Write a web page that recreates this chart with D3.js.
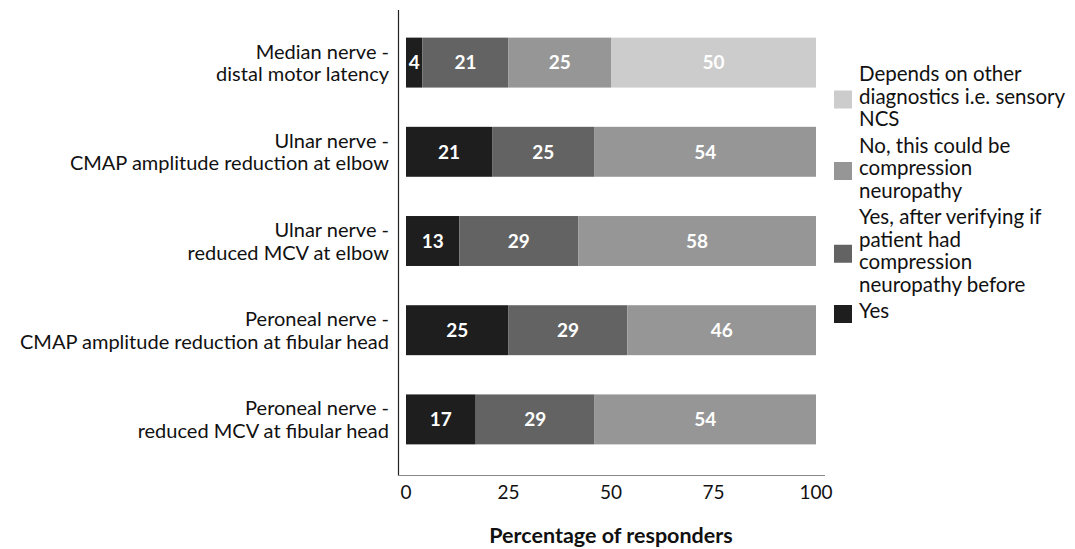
<!DOCTYPE html>
<html>
<head>
<meta charset="utf-8">
<script src="https://cdn.jsdelivr.net/npm/d3@7.9.0/dist/d3.min.js"></script>
<style>
  body { margin: 0; background: #fff; }
  svg { font-family: Lato, "Open Sans", sans-serif; }
</style>
</head>
<body>
<svg id="chart" width="1075" height="549"></svg>
<script>
const categories = [
  ["Median nerve -", "distal motor latency"],
  ["Ulnar nerve -", "CMAP amplitude reduction at elbow"],
  ["Ulnar nerve -", "reduced MCV at elbow"],
  ["Peroneal nerve -", "CMAP amplitude reduction at fibular head"],
  ["Peroneal nerve -", "reduced MCV at fibular head"]
];
const seriesNames = [
  "Yes",
  "Yes, after verifying if patient had compression neuropathy before",
  "No, this could be compression neuropathy",
  "Depends on other diagnostics i.e. sensory NCS"
];
const yes = [4, 21, 13, 25, 17];
const yesAfter = [21, 25, 29, 29, 29];
const no = [25, 54, 58, 46, 54];
const depends = [50, 0, 0, 0, 0];
const xTicks = [0, 25, 50, 75, 100];
const colors = ["#1e1e1e", "#636363", "#969696", "#cccccc"];

// legend lines, top to bottom
const legendItems = [
  { s: 3, lines: ["Depends on other", "diagnostics i.e. sensory", "NCS"] },
  { s: 2, lines: ["No, this could be", "compression", "neuropathy"] },
  { s: 1, lines: ["Yes, after verifying if", "patient had", "compression", "neuropathy before"] },
  { s: 0, lines: ["Yes"] }
];

const rows = categories.map((c, i) => ({
  key: i, s0: yes[i], s1: yesAfter[i], s2: no[i], s3: depends[i]
}));
const stack = d3.stack().keys(["s0", "s1", "s2", "s3"])(rows);

const svg = d3.select("#chart");
const x = d3.scaleLinear().domain([0, 100]).range([406, 816]);
const y = d3.scaleBand().domain(d3.range(categories.length)).range([18, 464]).paddingInner(0.44).paddingOuter(0.22);

// bars
stack.forEach((layer, si) => {
  const g = svg.append("g");
  g.selectAll("rect")
    .data(layer.filter(d => d[1] - d[0] > 0))
    .join("rect")
    .attr("x", d => x(d[0]))
    .attr("y", d => y(d.data.key))
    .attr("width", d => x(d[1]) - x(d[0]))
    .attr("height", y.bandwidth())
    .attr("fill", colors[si]);
  g.selectAll("text")
    .data(layer.filter(d => d[1] - d[0] > 0))
    .join("text")
    .attr("x", d => (x(d[0]) + x(d[1])) / 2)
    .attr("y", d => y(d.data.key) + y.bandwidth() / 2)
    .attr("dy", "0.36em")
    .attr("text-anchor", "middle")
    .attr("fill", "#fff")
    .attr("font-weight", "bold")
    .attr("font-size", 19)
    .text(d => d[1] - d[0]);
});

// axis lines
svg.append("line").attr("x1", 398.5).attr("x2", 398.5).attr("y1", 10).attr("y2", 476)
  .attr("stroke", "#222").attr("stroke-width", 1.2);
svg.append("line").attr("x1", 398).attr("x2", 825).attr("y1", 475.5).attr("y2", 475.5)
  .attr("stroke", "#888").attr("stroke-width", 1);

// x tick labels
svg.selectAll(".xt").data(xTicks).join("text")
  .attr("x", d => x(d))
  .attr("y", 499)
  .attr("text-anchor", "middle")
  .attr("font-size", 19)
  .attr("fill", "#111")
  .text(d => d);

svg.append("text")
  .attr("x", 611).attr("y", 543)
  .attr("text-anchor", "middle")
  .attr("font-weight", "bold")
  .attr("font-size", 21.5)
  .attr("fill", "#111")
  .text("Percentage of responders");

// category labels
categories.forEach((c, i) => {
  const cy = y(i) + y.bandwidth() / 2;
  const t = svg.append("text")
    .attr("text-anchor", "end")
    .attr("font-size", 20)
    .attr("fill", "#111");
  c.forEach((line, j) => {
    t.append("tspan").attr("x", 389).attr("y", cy - 4 + j * 22.5).text(line);
  });
});

// legend
let ly = 81;
legendItems.forEach(item => {
  const n = item.lines.length;
  const mid = ly + (n - 1) * 22.5 / 2;
  svg.append("rect").attr("x", 834).attr("y", mid - 13).attr("width", 18).attr("height", 18)
    .attr("fill", colors[item.s]);
  const t = svg.append("text").attr("font-size", 20.5).attr("fill", "#111");
  item.lines.forEach((line, j) => {
    t.append("tspan").attr("x", 859).attr("y", ly + j * 22.5).text(line);
  });
  ly += n * 22.5 + 4;
});
</script>
</body>
</html>
